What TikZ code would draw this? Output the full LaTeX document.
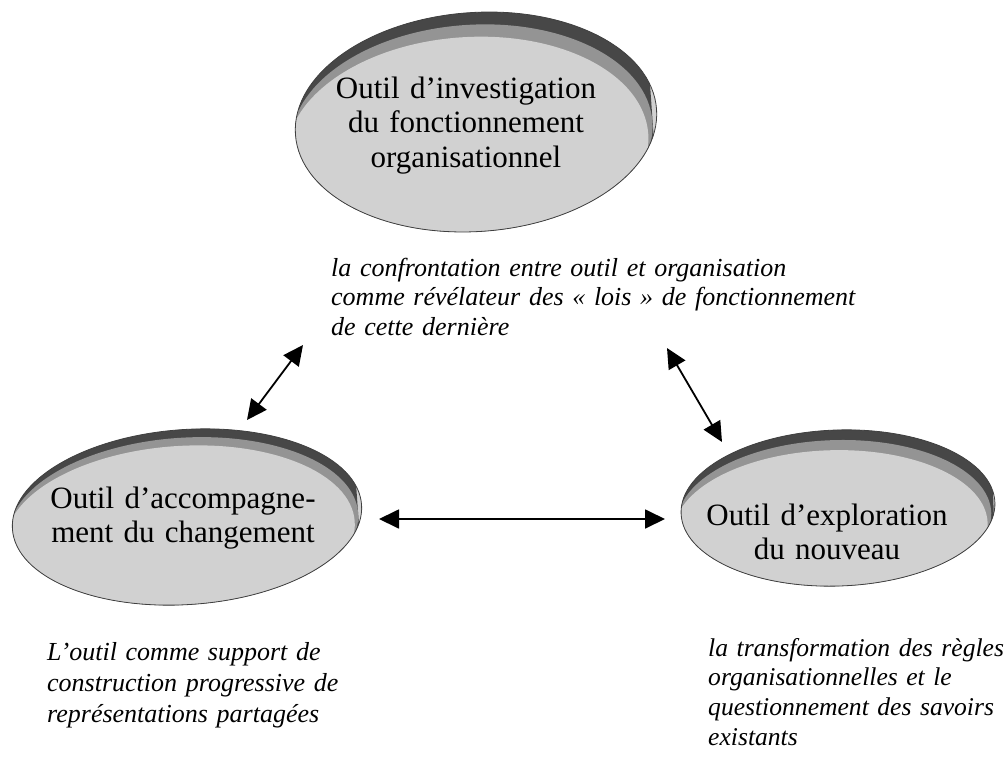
\documentclass[tikz,border=0pt]{standalone}
\usepackage{fontspec}
\setmainfont{Liberation Serif}
\usetikzlibrary{arrows.meta,calc,shapes.geometric}
\begin{document}
\begin{tikzpicture}[x=1pt,y=-1pt,
  blob/.style n args={5}{ellipse, minimum width=#1, minimum height=#2, inner sep=0pt,
    rotate=#3, draw=black!75, line width=0.8pt, fill=black!18,
    path picture={
      \fill[black!72] (path picture bounding box.north west) rectangle (path picture bounding box.south east);
      \fill[black!42] ([shift={(#4/2,#5/2)}]path picture bounding box.center) ellipse [x radius=#1/2, y radius=#2/2];
      \fill[black!18] ([shift={(#4,#5)}]path picture bounding box.center) ellipse [x radius=#1/2, y radius=#2/2];
    }},
  lbl/.style={font=\fontsize{31}{34.5}\selectfont, align=center, text width=330pt, inner sep=0pt, anchor=base},
  note/.style={align=left, inner sep=0pt, anchor=base west},
  arr/.style={{Triangle[length=20pt,width=19pt]}-{Triangle[length=20pt,width=19pt]}, line width=1.8pt, black}
]
\useasboundingbox[fill=white] (0,0) rectangle (1005,758);

% ellipses
\node[blob={362pt}{219pt}{4}{-10}{24}] (etop) at (476,122) {};
\node[blob={350pt}{175pt}{4}{-8}{16}] (eleft) at (187,517) {};
\node[blob={314pt}{156pt}{2}{-8}{20}] (eright) at (838,508) {};

% ellipse texts
\node[lbl] (ttop) at (466,98) {Outil d’investigation\\du fonctionnement\\organisationnel};
\node[lbl] (tleft) at (183,508) {Outil d’accompagne-\\ment du changement};
\node[lbl] (tright) at (827,525) {Outil d’exploration\\du nouveau};

% notes
\node[note, text width=640pt, font=\fontsize{26}{29.5}\selectfont\itshape] (ntop) at (331,276)
  {la confrontation entre outil et organisation\\comme révélateur des « lois » de fonctionnement\\de cette dernière};
\node[note, text width=300pt, font=\fontsize{26}{31}\selectfont\itshape] (nleft) at (47,660)
  {L’outil comme support de\\construction progressive de\\représentations partagées};
\node[note, text width=300pt, font=\fontsize{25.6}{29.8}\selectfont\itshape] (nright) at (708,656)
  {la transformation des règles\\organisationnelles et le\\questionnement des savoirs\\existants};

% arrows
\coordinate (l1) at (247,420);
\coordinate (l2) at (303,345);
\coordinate (r1) at (667,348);
\coordinate (r2) at (722,442);
\coordinate (h1) at (379,519);
\coordinate (h2) at (665,519);
\draw[arr] (l1) -- (l2);
\draw[arr] (r1) -- (r2);
\draw[arr] (h1) -- (h2);
\end{tikzpicture}
\end{document}
